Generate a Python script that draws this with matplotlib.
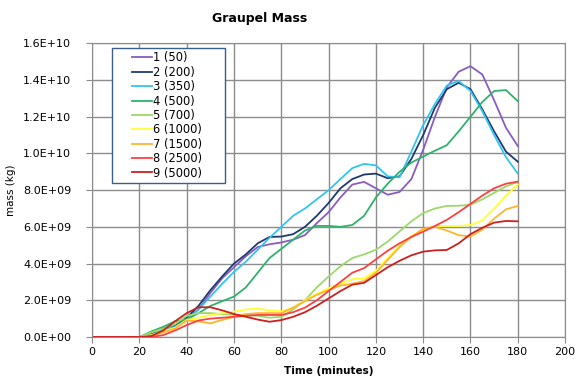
import numpy as np
import matplotlib
matplotlib.use('Agg')
import matplotlib.pyplot as plt
from matplotlib.lines import Line2D
from matplotlib.legend_handler import HandlerLine2D
from matplotlib.ticker import FuncFormatter, MultipleLocator

# time axis (minutes), values in 1e9 kg
time = np.arange(0, 181, 5)

labels = ['1 (50)', '2 (200)', '3 (350)', '4 (500)', '5 (700)',
          '6 (1000)', '7 (1500)', '8 (2500)', '9 (5000)']
colors = ['#8a5cc2', '#1f3a6e', '#33c4f2', '#2db36b', '#9dd96a',
          '#ffff33', '#ffb52e', '#ff4040', '#cc2020']

zeros = [0, 0, 0, 0, 0]
m1 = zeros + [0.15, 0.45, 0.6, 1.05, 1.5, 2.4, 3.2, 3.8, 4.4, 4.9, 5.05, 5.15, 5.3, 5.55, 6.2, 6.8,
              7.6, 8.3, 8.45, 8.1, 7.75, 7.9, 8.6, 10.2, 12.0, 13.6, 14.45, 14.75, 14.3, 12.9, 11.4, 10.4]
m2 = zeros + [0.15, 0.45, 0.6, 1.05, 1.7, 2.55, 3.3, 4.0, 4.5, 5.1, 5.45, 5.47, 5.6, 6.0, 6.6, 7.3,
              8.1, 8.6, 8.85, 8.9, 8.65, 8.75, 9.7, 11.0, 12.5, 13.5, 13.85, 13.5, 12.4, 11.2, 10.1, 9.55]
m3 = zeros + [0.1, 0.4, 0.55, 0.95, 1.5, 2.2, 2.9, 3.55, 4.1, 4.75, 5.4, 6.0, 6.6, 7.0, 7.5, 8.0,
              8.6, 9.2, 9.43, 9.35, 8.75, 8.7, 10.1, 11.55, 12.7, 13.7, 13.95, 13.4, 12.3, 11.0, 9.8, 8.9]
m4 = zeros + [0.3, 0.55, 0.85, 0.95, 1.3, 1.69, 1.95, 2.2, 2.7, 3.5, 4.3, 4.8, 5.3, 5.8, 6.05, 6.05,
              6.0, 6.1, 6.6, 7.6, 8.35, 9.0, 9.5, 9.83, 10.15, 10.45, 11.2, 12.0, 12.8, 13.4, 13.45, 12.85]
m5 = zeros + [0.25, 0.45, 0.7, 1.15, 1.3, 1.3, 1.25, 1.2, 1.2, 1.15, 1.05, 1.1, 1.5, 2.0, 2.7, 3.3,
              3.85, 4.3, 4.5, 4.75, 5.2, 5.75, 6.3, 6.75, 7.0, 7.14, 7.15, 7.2, 7.5, 7.85, 8.2, 8.46]
m6 = zeros + [0.1, 0.3, 0.5, 0.93, 1.05, 1.2, 1.3, 1.38, 1.5, 1.55, 1.45, 1.4, 1.6, 2.0, 2.35, 2.65,
              2.9, 3.15, 3.2, 3.6, 4.3, 4.95, 5.5, 5.83, 6.05, 6.05, 6.05, 6.1, 6.35, 7.0, 7.7, 8.3]
m7 = zeros + [0.05, 0.25, 0.45, 0.9, 0.85, 0.74, 0.93, 1.1, 1.25, 1.3, 1.3, 1.3, 1.6, 1.95, 2.3, 2.56,
              2.8, 2.9, 3.05, 3.5, 4.2, 4.9, 5.45, 5.9, 6.0, 5.8, 5.55, 5.47, 5.85, 6.45, 6.95, 7.14]
m8 = zeros + [0.0, 0.1, 0.35, 0.65, 0.9, 1.0, 1.05, 1.1, 1.15, 1.2, 1.2, 1.2, 1.35, 1.6, 2.0, 2.5,
              3.0, 3.5, 3.75, 4.23, 4.7, 5.1, 5.45, 5.74, 6.05, 6.38, 6.8, 7.25, 7.7, 8.1, 8.35, 8.46]
m9 = zeros + [0.05, 0.35, 0.85, 1.3, 1.62, 1.62, 1.45, 1.25, 1.1, 0.95, 0.83, 0.92, 1.1, 1.35, 1.7, 2.1,
              2.5, 2.85, 2.95, 3.37, 3.8, 4.15, 4.45, 4.65, 4.72, 4.74, 5.1, 5.6, 5.95, 6.23, 6.32, 6.3]

series = [m1, m2, m3, m4, m5, m6, m7, m8, m9]

fig = plt.figure(figsize=(5.76, 3.78), dpi=100)
ax = fig.add_axes([0.16, 0.1085, 0.821, 0.777])

for vals, lab, col in zip(series, labels, colors):
    ax.plot(time, np.array(vals) * 1e9, color=col, lw=1.3, label=lab)

ax.set_xlim(0, 200)
ax.set_ylim(0, 1.6e10)
ax.xaxis.set_major_locator(MultipleLocator(20))
ax.yaxis.set_major_locator(MultipleLocator(2e9))
ax.yaxis.set_major_formatter(FuncFormatter(lambda v, p: f'{v:.1E}'))
ax.grid(True, color='#8c8c8c', lw=1.0)
ax.set_axisbelow(True)
for s in ax.spines.values():
    s.set_color('#8c8c8c')
ax.tick_params(labelsize=8, color='#8c8c8c', length=4, direction='out')
ax.tick_params(axis='y', pad=11)

ax.set_xlabel('Time (minutes)', fontsize=7.5, fontweight='bold', labelpad=6)
ax.set_ylabel('mass (kg)', fontsize=7.5, labelpad=5)
fig.text(0.451, 0.952, 'Graupel Mass', fontsize=9, fontweight='bold', ha='center', va='center')

# legend box spanning x 112-225 px, top at y 48 px
x0, x1 = 112 / 576, 225 / 576
leg = ax.legend(loc='upper left', bbox_to_anchor=(x0, 0.5, x1 - x0, 1 - 48 / 378 - 0.5),
                bbox_transform=fig.transFigure, mode='expand',
                handler_map={Line2D: HandlerLine2D(marker_pad=1.4, numpoints=2)},
                fontsize=8.3, fancybox=False, framealpha=1, edgecolor='#3a5f8f',
                handlelength=4.6, handletextpad=-1.35, labelspacing=0.12, borderpad=0.3,
                borderaxespad=0)
leg.get_frame().set_linewidth(1.0)

fig.savefig('out.png', dpi=100)
